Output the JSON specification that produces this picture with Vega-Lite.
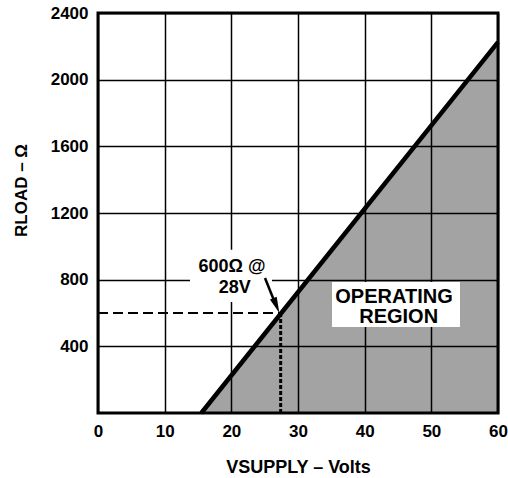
{
  "$schema": "https://vega.github.io/schema/vega-lite/v6.json",
  "width": 400,
  "height": 400,
  "autosize": {"type": "none"},
  "padding": {"left": 98, "top": 13, "right": 10, "bottom": 65},
  "background": "white",
  "config": {
    "view": {"stroke": "black", "strokeWidth": 3},
    "font": "Liberation Sans",
    "axis": {
      "grid": true,
      "gridColor": "black",
      "gridWidth": 1.5,
      "gridOpacity": 1,
      "domain": false,
      "ticks": false,
      "labelPadding": 10,
      "labelFontSize": 17,
      "labelFontWeight": "bold",
      "labelColor": "black",
      "labelFont": "Liberation Sans",
      "titleFont": "Liberation Sans",
      "titleFontSize": 18,
      "titleFontWeight": "bold",
      "titleColor": "black"
    }
  },
  "datasets": {
    "curve": [{"v": 15.5, "r": 0}, {"v": 60, "r": 2225}],
    "boxes": [
      {"x1": 13.8, "x2": 26.1, "y1": 666, "y2": 980},
      {"x1": 35.1, "x2": 54.3, "y1": 516, "y2": 786}
    ],
    "hdash": [{"x1": 0, "x2": 27.4, "y1": 600, "y2": 600}],
    "vdash": [{"x1": 27.4, "x2": 27.4, "y1": 0, "y2": 600}],
    "shaft": [{"x1": 25.05, "x2": 26.6, "y1": 810, "y2": 655}],
    "head": [{"x": 26.75, "y": 645}],
    "labels": [
      {"x": 20.1, "y": 876, "t": "600Ω @", "s": "a"},
      {"x": 20.5, "y": 752, "t": "28V", "s": "a"},
      {"x": 44.4, "y": 696, "t": "OPERATING", "s": "b"},
      {"x": 45.1, "y": 576, "t": "REGION", "s": "b"}
    ]
  },
  "encoding": {
    "x": {"type": "quantitative"},
    "y": {"type": "quantitative"}
  },
  "layer": [
    {
      "data": {"name": "curve"},
      "mark": {"type": "area", "color": "black", "opacity": 0.36},
      "encoding": {
        "x": {"field": "v", "type": "quantitative",
          "scale": {"domain": [0, 60], "nice": false, "zero": false},
          "axis": {"values": [0, 10, 20, 30, 40, 50, 60], "format": "d", "title": "VSUPPLY – Volts", "titlePadding": 19, "labelFlush": false}},
        "y": {"field": "r", "type": "quantitative",
          "scale": {"domain": [0, 2400], "nice": false},
          "axis": {"values": [400, 800, 1200, 1600, 2000, 2400], "format": "d", "title": "RLOAD – Ω", "titleFontSize": 17, "titlePadding": 20, "titleY": 177}}
      }
    },
    {
      "data": {"name": "boxes"},
      "mark": {"type": "rect", "color": "white"},
      "encoding": {
        "x": {"field": "x1", "type": "quantitative"},
        "x2": {"field": "x2"},
        "y": {"field": "y1", "type": "quantitative"},
        "y2": {"field": "y2"}
      }
    },
    {
      "data": {"name": "curve"},
      "mark": {"type": "line", "color": "black", "strokeWidth": 4.5},
      "encoding": {
        "x": {"field": "v", "type": "quantitative"},
        "y": {"field": "r", "type": "quantitative"}
      }
    },
    {
      "data": {"name": "hdash"},
      "mark": {"type": "rule", "color": "black", "strokeWidth": 2.2, "strokeDash": [10, 5]},
      "encoding": {
        "x": {"field": "x1", "type": "quantitative"},
        "x2": {"field": "x2"},
        "y": {"field": "y1", "type": "quantitative"},
        "y2": {"field": "y2"}
      }
    },
    {
      "data": {"name": "vdash"},
      "mark": {"type": "rule", "color": "black", "strokeWidth": 3, "strokeDash": [4, 2]},
      "encoding": {
        "x": {"field": "x1", "type": "quantitative"},
        "x2": {"field": "x2"},
        "y": {"field": "y1", "type": "quantitative"},
        "y2": {"field": "y2"}
      }
    },
    {
      "data": {"name": "shaft"},
      "mark": {"type": "rule", "color": "black", "strokeWidth": 2.5},
      "encoding": {
        "x": {"field": "x1", "type": "quantitative"},
        "x2": {"field": "x2"},
        "y": {"field": "y1", "type": "quantitative"},
        "y2": {"field": "y2"}
      }
    },
    {
      "data": {"name": "head"},
      "mark": {"type": "point", "shape": "M-0.45,-1L0.45,-1L0,1Z", "size": 260, "filled": true, "color": "black", "opacity": 1, "angle": -22},
      "encoding": {
        "x": {"field": "x", "type": "quantitative"},
        "y": {"field": "y", "type": "quantitative"}
      }
    },
    {
      "data": {"name": "labels"},
      "transform": [{"filter": "datum.s == 'a'"}],
      "mark": {"type": "text", "font": "Liberation Sans", "fontSize": 18, "fontWeight": "bold", "color": "black", "align": "center", "baseline": "middle"},
      "encoding": {
        "x": {"field": "x", "type": "quantitative"},
        "y": {"field": "y", "type": "quantitative"},
        "text": {"field": "t"}
      }
    },
    {
      "data": {"name": "labels"},
      "transform": [{"filter": "datum.s == 'b'"}],
      "mark": {"type": "text", "font": "Liberation Sans", "fontSize": 20, "fontWeight": "bold", "color": "black", "align": "center", "baseline": "middle"},
      "encoding": {
        "x": {"field": "x", "type": "quantitative"},
        "y": {"field": "y", "type": "quantitative"},
        "text": {"field": "t"}
      }
    }
  ]
}
